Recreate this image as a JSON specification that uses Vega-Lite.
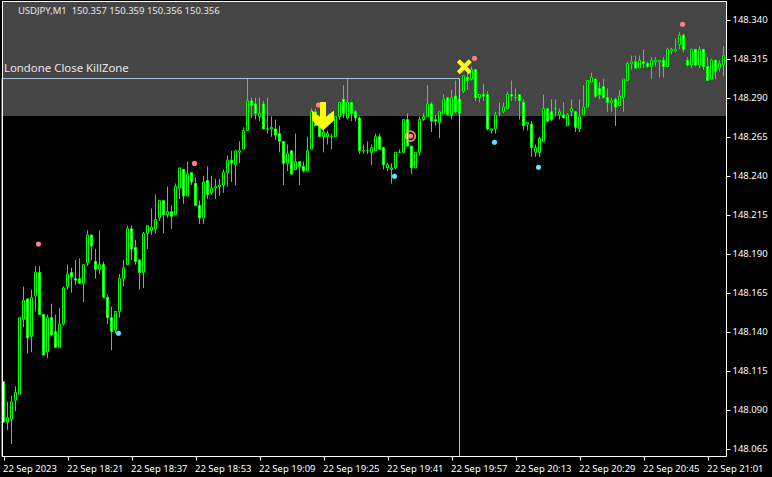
{"$schema":"https://vega.github.io/schema/vega-lite/v6.json","width":724,"height":455,"autosize":"none","padding":{"left":2,"top":1,"right":46,"bottom":21},"background":"#000000","config":{"view":{"stroke":null},"axis":{"grid":false,"title":null,"labelColor":"#ffffff","tickColor":"#ffffff","domainColor":"#ffffff","labelFont":"Noto Sans","labelFontSize":9.5,"tickSize":4,"zindex":1,"labelOverlap":false}},
"datasets":{"candles":[
{"time":"2023-09-22T18:05Z","open":148.108,"high":148.108,"low":148.082,"close":148.082},
{"time":"2023-09-22T18:06Z","open":148.082,"high":148.095,"low":148.077,"close":148.085},
{"time":"2023-09-22T18:07Z","open":148.084,"high":148.099,"low":148.068,"close":148.095},
{"time":"2023-09-22T18:08Z","open":148.096,"high":148.105,"low":148.089,"close":148.101},
{"time":"2023-09-22T18:09Z","open":148.100,"high":148.149,"low":148.100,"close":148.149},
{"time":"2023-09-22T18:10Z","open":148.148,"high":148.169,"low":148.143,"close":148.160},
{"time":"2023-09-22T18:11Z","open":148.161,"high":148.161,"low":148.126,"close":148.136},
{"time":"2023-09-22T18:12Z","open":148.137,"high":148.167,"low":148.127,"close":148.162},
{"time":"2023-09-22T18:13Z","open":148.163,"high":148.182,"low":148.153,"close":148.178},
{"time":"2023-09-22T18:14Z","open":148.178,"high":148.182,"low":148.151,"close":148.151},
{"time":"2023-09-22T18:15Z","open":148.151,"high":148.151,"low":148.125,"close":148.125},
{"time":"2023-09-22T18:16Z","open":148.127,"high":148.151,"low":148.123,"close":148.149},
{"time":"2023-09-22T18:17Z","open":148.149,"high":148.158,"low":148.137,"close":148.138},
{"time":"2023-09-22T18:18Z","open":148.140,"high":148.151,"low":148.130,"close":148.130},
{"time":"2023-09-22T18:19Z","open":148.130,"high":148.155,"low":148.130,"close":148.145},
{"time":"2023-09-22T18:20Z","open":148.145,"high":148.169,"low":148.144,"close":148.168},
{"time":"2023-09-22T18:21Z","open":148.169,"high":148.183,"low":148.167,"close":148.177},
{"time":"2023-09-22T18:22Z","open":148.178,"high":148.181,"low":148.165,"close":148.175},
{"time":"2023-09-22T18:23Z","open":148.174,"high":148.186,"low":148.170,"close":148.173},
{"time":"2023-09-22T18:24Z","open":148.174,"high":148.187,"low":148.171,"close":148.171},
{"time":"2023-09-22T18:25Z","open":148.171,"high":148.183,"low":148.159,"close":148.183},
{"time":"2023-09-22T18:26Z","open":148.184,"high":148.205,"low":148.182,"close":148.202},
{"time":"2023-09-22T18:27Z","open":148.202,"high":148.202,"low":148.186,"close":148.195},
{"time":"2023-09-22T18:28Z","open":148.185,"high":148.193,"low":148.174,"close":148.180},
{"time":"2023-09-22T18:29Z","open":148.180,"high":148.205,"low":148.177,"close":148.183},
{"time":"2023-09-22T18:30Z","open":148.183,"high":148.185,"low":148.162,"close":148.162},
{"time":"2023-09-22T18:31Z","open":148.162,"high":148.164,"low":148.145,"close":148.149},
{"time":"2023-09-22T18:32Z","open":148.149,"high":148.156,"low":148.128,"close":148.140},
{"time":"2023-09-22T18:33Z","open":148.141,"high":148.153,"low":148.139,"close":148.153},
{"time":"2023-09-22T18:34Z","open":148.153,"high":148.177,"low":148.149,"close":148.174},
{"time":"2023-09-22T18:35Z","open":148.174,"high":148.186,"low":148.169,"close":148.181},
{"time":"2023-09-22T18:36Z","open":148.183,"high":148.208,"low":148.183,"close":148.206},
{"time":"2023-09-22T18:37Z","open":148.206,"high":148.208,"low":148.186,"close":148.193},
{"time":"2023-09-22T18:38Z","open":148.194,"high":148.199,"low":148.183,"close":148.185},
{"time":"2023-09-22T18:39Z","open":148.186,"high":148.186,"low":148.167,"close":148.178},
{"time":"2023-09-22T18:40Z","open":148.178,"high":148.204,"low":148.168,"close":148.203},
{"time":"2023-09-22T18:41Z","open":148.203,"high":148.208,"low":148.193,"close":148.208},
{"time":"2023-09-22T18:42Z","open":148.205,"high":148.219,"low":148.202,"close":148.207},
{"time":"2023-09-22T18:43Z","open":148.206,"high":148.228,"low":148.203,"close":148.212},
{"time":"2023-09-22T18:44Z","open":148.213,"high":148.224,"low":148.211,"close":148.224},
{"time":"2023-09-22T18:45Z","open":148.224,"high":148.224,"low":148.203,"close":148.215},
{"time":"2023-09-22T18:46Z","open":148.215,"high":148.233,"low":148.213,"close":148.217},
{"time":"2023-09-22T18:47Z","open":148.217,"high":148.221,"low":148.206,"close":148.214},
{"time":"2023-09-22T18:48Z","open":148.215,"high":148.235,"low":148.215,"close":148.233},
{"time":"2023-09-22T18:49Z","open":148.232,"high":148.245,"low":148.225,"close":148.245},
{"time":"2023-09-22T18:50Z","open":148.244,"high":148.244,"low":148.222,"close":148.227},
{"time":"2023-09-22T18:51Z","open":148.227,"high":148.249,"low":148.227,"close":148.241},
{"time":"2023-09-22T18:52Z","open":148.242,"high":148.242,"low":148.234,"close":148.236},
{"time":"2023-09-22T18:53Z","open":148.235,"high":148.239,"low":148.221,"close":148.221},
{"time":"2023-09-22T18:54Z","open":148.221,"high":148.224,"low":148.209,"close":148.213},
{"time":"2023-09-22T18:55Z","open":148.213,"high":148.240,"low":148.209,"close":148.236},
{"time":"2023-09-22T18:56Z","open":148.237,"high":148.246,"low":148.225,"close":148.228},
{"time":"2023-09-22T18:57Z","open":148.229,"high":148.240,"low":148.228,"close":148.232},
{"time":"2023-09-22T18:58Z","open":148.232,"high":148.238,"low":148.225,"close":148.233},
{"time":"2023-09-22T18:59Z","open":148.233,"high":148.238,"low":148.227,"close":148.234},
{"time":"2023-09-22T19:00Z","open":148.234,"high":148.244,"low":148.229,"close":148.242},
{"time":"2023-09-22T19:01Z","open":148.242,"high":148.253,"low":148.233,"close":148.250},
{"time":"2023-09-22T19:02Z","open":148.250,"high":148.256,"low":148.236,"close":148.248},
{"time":"2023-09-22T19:03Z","open":148.247,"high":148.256,"low":148.234,"close":148.256},
{"time":"2023-09-22T19:04Z","open":148.255,"high":148.262,"low":148.248,"close":148.256},
{"time":"2023-09-22T19:05Z","open":148.257,"high":148.271,"low":148.257,"close":148.269},
{"time":"2023-09-22T19:06Z","open":148.269,"high":148.302,"low":148.269,"close":148.288},
{"time":"2023-09-22T19:07Z","open":148.288,"high":148.290,"low":148.277,"close":148.285},
{"time":"2023-09-22T19:08Z","open":148.286,"high":148.290,"low":148.276,"close":148.280},
{"time":"2023-09-22T19:09Z","open":148.278,"high":148.290,"low":148.275,"close":148.280},
{"time":"2023-09-22T19:10Z","open":148.286,"high":148.288,"low":148.270,"close":148.270},
{"time":"2023-09-22T19:11Z","open":148.270,"high":148.290,"low":148.267,"close":148.270},
{"time":"2023-09-22T19:12Z","open":148.270,"high":148.278,"low":148.265,"close":148.271},
{"time":"2023-09-22T19:13Z","open":148.270,"high":148.276,"low":148.263,"close":148.266},
{"time":"2023-09-22T19:14Z","open":148.267,"high":148.272,"low":148.255,"close":148.262},
{"time":"2023-09-22T19:15Z","open":148.262,"high":148.262,"low":148.234,"close":148.248},
{"time":"2023-09-22T19:16Z","open":148.248,"high":148.260,"low":148.243,"close":148.254},
{"time":"2023-09-22T19:17Z","open":148.256,"high":148.256,"low":148.241,"close":148.241},
{"time":"2023-09-22T19:18Z","open":148.244,"high":148.267,"low":148.244,"close":148.249},
{"time":"2023-09-22T19:19Z","open":148.249,"high":148.249,"low":148.234,"close":148.246},
{"time":"2023-09-22T19:20Z","open":148.246,"high":148.249,"low":148.242,"close":148.243},
{"time":"2023-09-22T19:21Z","open":148.243,"high":148.265,"low":148.243,"close":148.256},
{"time":"2023-09-22T19:22Z","open":148.257,"high":148.283,"low":148.257,"close":148.281},
{"time":"2023-09-22T19:23Z","open":148.281,"high":148.283,"low":148.272,"close":148.272},
{"time":"2023-09-22T19:24Z","open":148.272,"high":148.276,"low":148.265,"close":148.265},
{"time":"2023-09-22T19:25Z","open":148.265,"high":148.278,"low":148.255,"close":148.268},
{"time":"2023-09-22T19:26Z","open":148.265,"high":148.269,"low":148.260,"close":148.267},
{"time":"2023-09-22T19:27Z","open":148.265,"high":148.267,"low":148.257,"close":148.265},
{"time":"2023-09-22T19:28Z","open":148.265,"high":148.278,"low":148.265,"close":148.278},
{"time":"2023-09-22T19:29Z","open":148.278,"high":148.287,"low":148.276,"close":148.287},
{"time":"2023-09-22T19:30Z","open":148.289,"high":148.298,"low":148.277,"close":148.280},
{"time":"2023-09-22T19:31Z","open":148.277,"high":148.302,"low":148.276,"close":148.287},
{"time":"2023-09-22T19:32Z","open":148.287,"high":148.287,"low":148.275,"close":148.280},
{"time":"2023-09-22T19:33Z","open":148.281,"high":148.282,"low":148.275,"close":148.277},
{"time":"2023-09-22T19:34Z","open":148.277,"high":148.278,"low":148.254,"close":148.256},
{"time":"2023-09-22T19:35Z","open":148.256,"high":148.260,"low":148.254,"close":148.256},
{"time":"2023-09-22T19:36Z","open":148.256,"high":148.262,"low":148.254,"close":148.256},
{"time":"2023-09-22T19:37Z","open":148.255,"high":148.260,"low":148.247,"close":148.258},
{"time":"2023-09-22T19:38Z","open":148.256,"high":148.267,"low":148.256,"close":148.265},
{"time":"2023-09-22T19:39Z","open":148.265,"high":148.267,"low":148.257,"close":148.257},
{"time":"2023-09-22T19:40Z","open":148.258,"high":148.258,"low":148.244,"close":148.247},
{"time":"2023-09-22T19:41Z","open":148.245,"high":148.248,"low":148.243,"close":148.247},
{"time":"2023-09-22T19:42Z","open":148.244,"high":148.248,"low":148.235,"close":148.245},
{"time":"2023-09-22T19:43Z","open":148.245,"high":148.255,"low":148.244,"close":148.255},
{"time":"2023-09-22T19:44Z","open":148.255,"high":148.257,"low":148.255,"close":148.255},
{"time":"2023-09-22T19:45Z","open":148.255,"high":148.276,"low":148.255,"close":148.276},
{"time":"2023-09-22T19:46Z","open":148.276,"high":148.280,"low":148.259,"close":148.259},
{"time":"2023-09-22T19:47Z","open":148.259,"high":148.259,"low":148.241,"close":148.245},
{"time":"2023-09-22T19:48Z","open":148.245,"high":148.255,"low":148.245,"close":148.255},
{"time":"2023-09-22T19:49Z","open":148.255,"high":148.278,"low":148.253,"close":148.276},
{"time":"2023-09-22T19:50Z","open":148.276,"high":148.280,"low":148.275,"close":148.278},
{"time":"2023-09-22T19:51Z","open":148.278,"high":148.298,"low":148.278,"close":148.286},
{"time":"2023-09-22T19:52Z","open":148.286,"high":148.287,"low":148.268,"close":148.275},
{"time":"2023-09-22T19:53Z","open":148.276,"high":148.279,"low":148.272,"close":148.275},
{"time":"2023-09-22T19:54Z","open":148.274,"high":148.281,"low":148.264,"close":148.281},
{"time":"2023-09-22T19:55Z","open":148.280,"high":148.292,"low":148.280,"close":148.289},
{"time":"2023-09-22T19:56Z","open":148.290,"high":148.290,"low":148.279,"close":148.279},
{"time":"2023-09-22T19:57Z","open":148.279,"high":148.295,"low":148.276,"close":148.290},
{"time":"2023-09-22T19:58Z","open":148.291,"high":148.301,"low":148.280,"close":148.281},
{"time":"2023-09-22T19:59Z","open":148.289,"high":148.289,"low":148.280,"close":148.280},
{"time":"2023-09-22T20:00Z","open":148.294,"high":148.304,"low":148.293,"close":148.304},
{"time":"2023-09-22T20:01Z","open":148.303,"high":148.306,"low":148.295,"close":148.301},
{"time":"2023-09-22T20:02Z","open":148.302,"high":148.310,"low":148.301,"close":148.308},
{"time":"2023-09-22T20:03Z","open":148.308,"high":148.308,"low":148.288,"close":148.290},
{"time":"2023-09-22T20:04Z","open":148.290,"high":148.292,"low":148.287,"close":148.292},
{"time":"2023-09-22T20:05Z","open":148.292,"high":148.299,"low":148.288,"close":148.291},
{"time":"2023-09-22T20:06Z","open":148.292,"high":148.294,"low":148.269,"close":148.270},
{"time":"2023-09-22T20:07Z","open":148.269,"high":148.270,"low":148.267,"close":148.270},
{"time":"2023-09-22T20:08Z","open":148.270,"high":148.281,"low":148.267,"close":148.279},
{"time":"2023-09-22T20:09Z","open":148.280,"high":148.287,"low":148.278,"close":148.280},
{"time":"2023-09-22T20:10Z","open":148.281,"high":148.287,"low":148.280,"close":148.284},
{"time":"2023-09-22T20:11Z","open":148.283,"high":148.294,"low":148.283,"close":148.292},
{"time":"2023-09-22T20:12Z","open":148.292,"high":148.301,"low":148.288,"close":148.291},
{"time":"2023-09-22T20:13Z","open":148.290,"high":148.296,"low":148.288,"close":148.290},
{"time":"2023-09-22T20:14Z","open":148.292,"high":148.292,"low":148.276,"close":148.288},
{"time":"2023-09-22T20:15Z","open":148.287,"high":148.289,"low":148.269,"close":148.272},
{"time":"2023-09-22T20:16Z","open":148.273,"high":148.274,"low":148.269,"close":148.274},
{"time":"2023-09-22T20:17Z","open":148.273,"high":148.275,"low":148.252,"close":148.258},
{"time":"2023-09-22T20:18Z","open":148.255,"high":148.260,"low":148.252,"close":148.258},
{"time":"2023-09-22T20:19Z","open":148.255,"high":148.265,"low":148.252,"close":148.264},
{"time":"2023-09-22T20:20Z","open":148.262,"high":148.292,"low":148.262,"close":148.283},
{"time":"2023-09-22T20:21Z","open":148.283,"high":148.283,"low":148.274,"close":148.275},
{"time":"2023-09-22T20:22Z","open":148.281,"high":148.289,"low":148.275,"close":148.276},
{"time":"2023-09-22T20:23Z","open":148.283,"high":148.289,"low":148.278,"close":148.283},
{"time":"2023-09-22T20:24Z","open":148.279,"high":148.283,"low":148.276,"close":148.281},
{"time":"2023-09-22T20:25Z","open":148.279,"high":148.287,"low":148.277,"close":148.277},
{"time":"2023-09-22T20:26Z","open":148.272,"high":148.280,"low":148.272,"close":148.279},
{"time":"2023-09-22T20:27Z","open":148.281,"high":148.289,"low":148.278,"close":148.283},
{"time":"2023-09-22T20:28Z","open":148.281,"high":148.281,"low":148.268,"close":148.271},
{"time":"2023-09-22T20:29Z","open":148.270,"high":148.289,"low":148.268,"close":148.278},
{"time":"2023-09-22T20:30Z","open":148.279,"high":148.298,"low":148.279,"close":148.284},
{"time":"2023-09-22T20:31Z","open":148.284,"high":148.301,"low":148.284,"close":148.301},
{"time":"2023-09-22T20:32Z","open":148.300,"high":148.306,"low":148.300,"close":148.303},
{"time":"2023-09-22T20:33Z","open":148.302,"high":148.302,"low":148.290,"close":148.291},
{"time":"2023-09-22T20:34Z","open":148.296,"high":148.300,"low":148.289,"close":148.292},
{"time":"2023-09-22T20:35Z","open":148.297,"high":148.302,"low":148.290,"close":148.290},
{"time":"2023-09-22T20:36Z","open":148.290,"high":148.296,"low":148.281,"close":148.287},
{"time":"2023-09-22T20:37Z","open":148.287,"high":148.290,"low":148.281,"close":148.288},
{"time":"2023-09-22T20:38Z","open":148.289,"high":148.290,"low":148.272,"close":148.284},
{"time":"2023-09-22T20:39Z","open":148.285,"high":148.295,"low":148.285,"close":148.291},
{"time":"2023-09-22T20:40Z","open":148.290,"high":148.302,"low":148.281,"close":148.302},
{"time":"2023-09-22T20:41Z","open":148.301,"high":148.313,"low":148.301,"close":148.312},
{"time":"2023-09-22T20:42Z","open":148.312,"high":148.317,"low":148.308,"close":148.313},
{"time":"2023-09-22T20:43Z","open":148.313,"high":148.317,"low":148.309,"close":148.309},
{"time":"2023-09-22T20:44Z","open":148.309,"high":148.317,"low":148.309,"close":148.314},
{"time":"2023-09-22T20:45Z","open":148.313,"high":148.321,"low":148.309,"close":148.312},
{"time":"2023-09-22T20:46Z","open":148.312,"high":148.313,"low":148.309,"close":148.310},
{"time":"2023-09-22T20:47Z","open":148.310,"high":148.316,"low":148.302,"close":148.314},
{"time":"2023-09-22T20:48Z","open":148.313,"high":148.316,"low":148.310,"close":148.314},
{"time":"2023-09-22T20:49Z","open":148.313,"high":148.314,"low":148.303,"close":148.314},
{"time":"2023-09-22T20:50Z","open":148.314,"high":148.316,"low":148.303,"close":148.310},
{"time":"2023-09-22T20:51Z","open":148.310,"high":148.322,"low":148.310,"close":148.321},
{"time":"2023-09-22T20:52Z","open":148.320,"high":148.322,"low":148.318,"close":148.321},
{"time":"2023-09-22T20:53Z","open":148.320,"high":148.328,"low":148.319,"close":148.321},
{"time":"2023-09-22T20:54Z","open":148.324,"high":148.332,"low":148.321,"close":148.330},
{"time":"2023-09-22T20:55Z","open":148.330,"high":148.331,"low":148.319,"close":148.321},
{"time":"2023-09-22T20:56Z","open":148.314,"high":148.316,"low":148.310,"close":148.311},
{"time":"2023-09-22T20:57Z","open":148.311,"high":148.321,"low":148.309,"close":148.321},
{"time":"2023-09-22T20:58Z","open":148.321,"high":148.321,"low":148.310,"close":148.311},
{"time":"2023-09-22T20:59Z","open":148.311,"high":148.323,"low":148.309,"close":148.321},
{"time":"2023-09-22T21:00Z","open":148.321,"high":148.321,"low":148.308,"close":148.310},
{"time":"2023-09-22T21:01Z","open":148.310,"high":148.316,"low":148.301,"close":148.301},
{"time":"2023-09-22T21:02Z","open":148.302,"high":148.315,"low":148.302,"close":148.314},
{"time":"2023-09-22T21:03Z","open":148.314,"high":148.314,"low":148.302,"close":148.307},
{"time":"2023-09-22T21:04Z","open":148.309,"high":148.314,"low":148.307,"close":148.312},
{"time":"2023-09-22T21:05Z","open":148.311,"high":148.323,"low":148.304,"close":148.317}
],
"dots":[
{"time":"2023-09-22T18:13:45Z","price":148.1962,"kind":"high"},
{"time":"2023-09-22T18:52:45Z","price":148.2479,"kind":"high"},
{"time":"2023-09-22T19:23:45Z","price":148.2853,"kind":"high"},
{"time":"2023-09-22T19:46:45Z","price":148.2654,"kind":"high"},
{"time":"2023-09-22T20:02:45Z","price":148.3153,"kind":"high"},
{"time":"2023-09-22T20:54:45Z","price":148.3371,"kind":"high"},
{"time":"2023-09-22T18:33:45Z","price":148.1390,"kind":"low"},
{"time":"2023-09-22T19:42:45Z","price":148.2396,"kind":"low"},
{"time":"2023-09-22T20:07:45Z","price":148.2614,"kind":"low"},
{"time":"2023-09-22T20:18:45Z","price":148.2454,"kind":"low"}
]},
"layer":[
{"data":{"values":[{"top":148.35199,"bottom":148.2783}]},"mark":{"type":"rect","color":"#454545"},"encoding":{"y":{"field":"top","type":"quantitative","scale":{"domain":[148.06032,148.35199],"nice":false,"zero":false},"axis":{"values":[148.065,148.09,148.115,148.14,148.165,148.19,148.215,148.24,148.265,148.29,148.315,148.34],"format":".3f","orient":"right","labelPadding":2}},"y2":{"field":"bottom"}}},
{"data":{"values":[{"start":"2023-09-22T18:04:37.5Z","end":"2023-09-22T19:59Z","top":148.3026,"bottom":148.06032}]},"mark":{"type":"rect","fill":null,"stroke":"#b0c4de","strokeWidth":1,"xOffset":0,"yOffset":0.5,"y2Offset":0.5},"encoding":{"x":{"field":"start","type":"temporal"},"x2":{"field":"end"},"y":{"field":"top","type":"quantitative"},"y2":{"field":"bottom"}}},
{"data":{"name":"candles"},"mark":{"type":"rule","color":"#00ff00","strokeWidth":1},"encoding":{"x":{"field":"time","type":"temporal","scale":{"type":"utc","domain":[1695405877500,1695416737500],"nice":false,"padding":0},"axis":{"values":[1695405900000,1695406860000,1695407820000,1695408780000,1695409740000,1695410700000,1695411660000,1695412620000,1695413580000,1695414540000,1695415500000,1695416460000],"labelExpr":"time(datum.value) == 1695405900000 ? '22 Sep 2023' : utcFormat(datum.value, '%d %b %H:%M')","labelAlign":"left","labelBaseline":"top","labelPadding":3,"labelOffset":-1,"labelFlush":false}},"y":{"field":"low","type":"quantitative"},"y2":{"field":"high"}}},
{"data":{"name":"candles"},"mark":{"type":"bar","size":2,"stroke":"#00ff00","strokeWidth":1},"encoding":{"x":{"field":"time","type":"temporal"},"y":{"field":"open","type":"quantitative"},"y2":{"field":"close"},"fill":{"condition":{"test":"datum.close > datum.open","value":"#000000"},"value":"#ffffff"}}},
{"data":{"name":"dots"},"mark":{"type":"point","filled":true,"size":26,"opacity":1},"encoding":{"x":{"field":"time","type":"temporal"},"y":{"field":"price","type":"quantitative"},"color":{"field":"kind","type":"nominal","legend":null,"scale":{"domain":["high","low"],"range":["#ff8080","#66e0ff"]}}}},
{"data":{"values":[{"time":"2023-09-22T19:46:42Z","price":148.2654}]},"mark":{"type":"point","filled":false,"size":100,"stroke":"#ff8080","strokeWidth":1.7,"opacity":1},"encoding":{"x":{"field":"time","type":"temporal"},"y":{"field":"price","type":"quantitative"}}},
{"data":{"values":[{"time":"2023-09-22T19:24:52Z","price":148.2781}]},"mark":{"type":"point","filled":true,"opacity":1,"color":"#ffff00","size":818,"shape":"M-0.21,-1L0.21,-1L0.21,0.03L0.77,-0.4L0.77,0.29L0,1L-0.77,0.29L-0.77,-0.4L-0.21,0.03Z"},"encoding":{"x":{"field":"time","type":"temporal"},"y":{"field":"price","type":"quantitative"}}},
{"data":{"values":[{"time":"2023-09-22T20:00:12Z","price":148.3099}]},"mark":{"type":"point","filled":true,"opacity":1,"color":"#ffff00","size":225,"shape":"M-1,-0.6L-0.6,-1L0,-0.4L0.6,-1L1,-0.6L0.4,0L1,0.6L0.6,1L0,0.4L-0.6,1L-1,0.6L-0.4,0Z"},"encoding":{"x":{"field":"time","type":"temporal"},"y":{"field":"price","type":"quantitative"}}},
{"data":{"values":[{"time":"2023-09-22T18:08:36Z","price":148.3456,"label":"USDJPY,M1 \u00a0150.357 150.359 150.356 150.356","font":9.5},{"time":"2023-09-22T18:05:07Z","price":148.3084,"label":"Londone Close KillZone","font":11.4}]},"mark":{"type":"text","align":"left","baseline":"middle","font":"Noto Sans","color":"#e8e8e8"},"encoding":{"x":{"field":"time","type":"temporal"},"y":{"field":"price","type":"quantitative"},"text":{"field":"label","type":"nominal"},"size":{"field":"font","type":"quantitative","scale":null}}},
{"data":{"values":[{"start":"2023-09-22T18:04:37.5Z","end":"2023-09-22T21:05:37.5Z","top":148.35199,"bottom":148.06032}]},"mark":{"type":"rect","fill":null,"stroke":"#ffffff","strokeWidth":1,"xOffset":0.5,"x2Offset":0.5,"yOffset":0.5,"y2Offset":0.5},"encoding":{"x":{"field":"start","type":"temporal"},"x2":{"field":"end"},"y":{"field":"top","type":"quantitative"},"y2":{"field":"bottom"}}}
]}
